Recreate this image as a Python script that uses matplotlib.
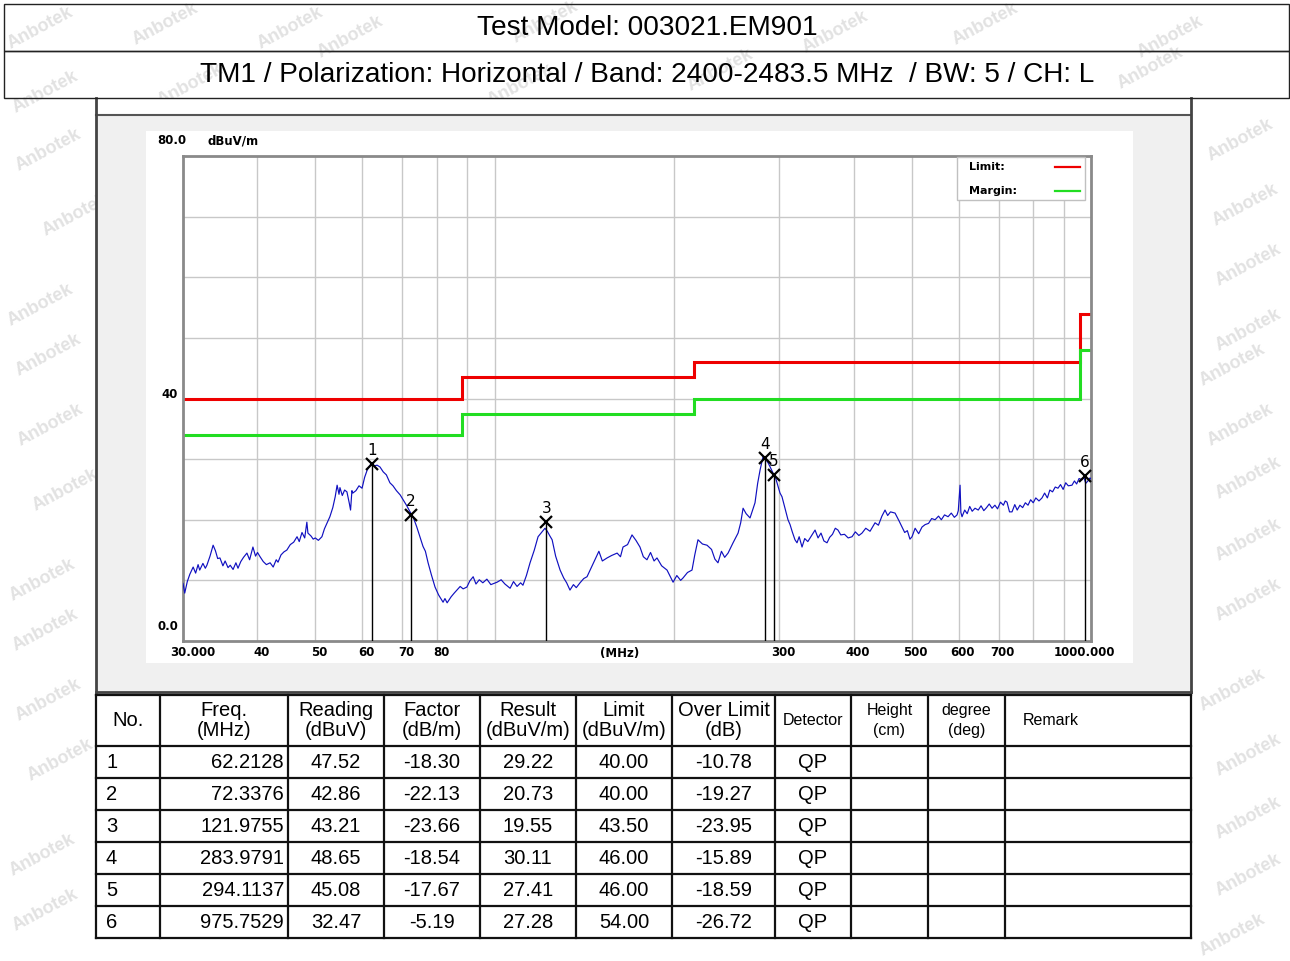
import matplotlib.pyplot as plt
from matplotlib.patches import Rectangle
from matplotlib.ticker import NullLocator

W, H = 1290, 961

title_model = "Test Model: 003021.EM901"
title_setup = "TM1 / Polarization: Horizontal / Band: 2400-2483.5 MHz  / BW: 5 / CH: L"

# limit line (step), margin = limit - 6 dB
limit_edges = [30, 88, 216, 960, 1000]
limit_levels = [40.0, 43.5, 46.0, 54.0]
margin_db = 6.0

trace_freq = [
    30.0, 30.2, 30.5, 30.8, 31.2, 31.5, 31.8, 32.0, 32.4, 32.7, 32.9, 33.3, 33.7, 34.0, 34.3,
    34.6, 35.0, 35.3, 35.7, 36.0, 36.4, 36.8, 37.1, 37.5, 37.9, 38.4, 38.8, 39.3, 39.7, 40.0,
    40.4, 40.9, 41.4, 42.0, 42.5, 43.0, 43.3, 43.8, 44.3, 44.8, 45.4, 46.0, 46.6, 47.0, 47.5,
    48.0, 48.4, 48.6, 49.2, 49.6, 50.0, 50.6, 51.3, 51.8, 52.3, 52.9, 53.5, 54.0, 54.4, 54.8,
    55.0, 55.5, 56.0, 56.5, 57.0, 57.3, 57.6, 57.8, 58.5, 59.2, 59.9, 60.5, 61.1, 61.6, 62.2,
    62.8, 63.5, 64.2, 65.0, 65.8, 66.7, 67.5, 68.4, 69.4, 70.3, 71.2, 72.1, 73.0, 74.0, 74.9,
    75.8, 76.5, 77.3, 78.3, 79.4, 80.5, 81.9, 82.5, 83.2, 84.5, 85.5, 86.4, 87.5, 88.5, 89.8,
    90.8, 92.0, 93.0, 94.2, 95.5, 97.0, 98.5, 100.9, 102.5, 104.0, 106.1, 107.5, 109.0, 110.5,
    111.5, 113.0, 114.6, 116.5, 118.2, 119.8, 121.4, 122.5, 123.6, 124.8, 126.5, 128.7, 130.5,
    132.0, 133.7, 135.5, 137.0, 139.0, 141.0, 142.8, 145.0, 147.3, 149.5, 151.5, 154.3, 157.0,
    160.4, 162.5, 164.1, 167.0, 169.9, 172.5, 175.2, 177.5, 180.0, 182.5, 185.0, 187.1, 190.5,
    194.5, 197.0, 199.1, 202.0, 205.0, 206.9, 210.5, 214.2, 216.5, 219.2, 223.0, 227.0, 231.0,
    234.0, 236.8, 240.0, 243.0, 246.2, 251.0, 255.9, 258.5, 260.9, 264.0, 268.0, 270.5, 273.2,
    276.0, 278.6, 281.8, 284.5, 287.3, 290.0, 292.9, 295.2, 298.0, 300.9, 303.2, 306.5, 310.3,
    312.8, 315.5, 318.8, 321.3, 324.0, 327.6, 331.0, 335.0, 340.0, 344.5, 348.5, 352.5, 356.5,
    360.8, 364.5, 368.5, 372.5, 376.4, 380.5, 386.0, 391.5, 397.4, 402.5, 408.0, 413.0, 419.0,
    426.0, 434.3, 440.0, 446.0, 451.4, 456.0, 461.0, 469.2, 476.0, 482.0, 487.0, 492.0, 497.0,
    501.0, 507.0, 514.0, 520.7, 527.0, 534.0, 540.5, 547.6, 555.0, 561.0, 568.0, 575.8, 583.0,
    590.0, 596.1, 599.0, 603.1, 605.0, 607.7, 614.0, 620.0, 626.0, 632.0, 639.0, 647.0, 654.0,
    661.0, 668.0, 675.0, 682.4, 690.0, 697.0, 705.0, 713.0, 718.0, 723.0, 730.0, 737.1, 745.0,
    752.0, 760.0, 768.0, 776.0, 784.1, 792.0, 800.0, 808.0, 818.0, 827.6, 836.0, 845.0, 853.0,
    862.0, 871.0, 880.3, 889.0, 898.0, 907.0, 916.0, 929.2, 938.0, 946.0, 955.0, 965.8, 973.0,
    980.0, 988.0, 996.1, 1000.0,
]
trace_level = [
    9.5, 7.9, 9.8, 11.0, 12.2, 11.2, 12.6, 11.7, 12.8, 12.0, 12.5, 14.0, 15.8, 14.9, 13.6,
    13.7, 12.4, 13.2, 12.1, 12.5, 11.8, 12.9, 12.0, 13.1, 13.8, 14.5, 13.4, 15.5, 14.0, 14.6,
    13.9, 13.1, 12.6, 12.9, 12.2, 13.4, 13.0, 14.2, 14.7, 15.0, 15.9, 16.3, 17.2, 16.4, 17.9,
    17.0, 19.6, 17.8, 17.3, 16.8, 17.0, 16.6, 17.2, 18.5, 19.4, 20.5, 22.0, 23.8, 25.7, 24.2,
    25.3, 24.0, 24.9, 24.6, 22.8, 21.6, 24.8, 24.4, 24.8, 25.6, 25.2, 27.0, 28.2, 28.8, 29.4,
    28.9, 29.0, 28.7, 27.9, 27.4, 26.1, 25.6, 24.8, 24.1, 23.2, 22.3, 21.3, 20.4, 18.8, 17.2,
    15.6, 14.8, 12.9, 10.9, 8.9, 7.6, 6.4, 7.0, 6.3, 7.3, 7.9, 8.4, 9.0, 8.6, 8.9,
    9.9, 10.6, 9.4, 10.1, 9.6, 10.2, 9.3, 9.7, 10.1, 9.4, 8.7, 9.8, 9.0, 9.6,
    9.2, 10.8, 12.9, 15.0, 17.2, 17.9, 18.6, 18.1, 17.4, 16.7, 14.0, 11.7, 10.4,
    9.6, 8.4, 9.3, 8.8, 9.6, 10.3, 10.6, 12.0, 13.4, 14.8, 13.2, 13.7, 14.1,
    14.5, 13.9, 15.5, 15.9, 17.5, 16.6, 15.5, 13.9, 13.4, 14.6, 13.2, 13.7, 12.4,
    11.7, 10.6, 9.7, 10.8, 10.0, 10.4, 11.3, 11.7, 14.2, 16.7, 16.0, 15.8, 15.1,
    13.5, 12.9, 14.8, 13.8, 14.5, 16.2, 17.8, 19.5, 21.9, 21.0, 20.3, 21.5, 22.8,
    26.0, 28.2, 30.4, 30.0, 29.4, 28.6, 27.7, 27.2, 25.8, 24.4, 23.8, 22.0, 20.0,
    19.2, 18.0, 16.7, 16.2, 17.2, 15.5, 16.9, 16.4, 17.4, 18.3, 17.0, 17.8, 16.5,
    16.2, 17.1, 17.6, 18.6, 18.3, 17.5, 17.6, 17.0, 17.2, 18.0, 17.4, 17.8, 18.6,
    18.1, 19.5, 19.1, 20.6, 21.6, 20.7, 21.3, 21.1, 19.9, 18.8, 17.9, 18.2, 16.8,
    17.2, 18.6, 17.7, 18.8, 19.2, 19.4, 20.2, 20.0, 20.6, 20.0, 20.8, 20.5, 21.1,
    20.4, 20.8, 21.5, 25.7, 21.2, 20.5, 21.6, 21.0, 22.2, 21.4, 21.9, 21.6, 22.3,
    21.5, 22.0, 22.6, 21.9, 22.4, 21.8, 22.9, 22.4, 23.1, 22.9, 21.3, 21.3, 22.5,
    21.6, 22.4, 22.0, 22.8, 22.4, 23.3, 22.8, 23.6, 23.1, 23.6, 24.4, 23.6, 24.9,
    24.6, 25.4, 25.2, 25.8, 25.0, 26.1, 25.6, 25.7, 26.4, 25.9, 26.8, 26.6, 27.0,
    26.0, 26.4, 26.9, 26.7,
]

# peak table
peak_no = [1, 2, 3, 4, 5, 6]
peak_freq = [62.2128, 72.3376, 121.9755, 283.9791, 294.1137, 975.7529]
peak_reading = [47.52, 42.86, 43.21, 48.65, 45.08, 32.47]
peak_factor = [-18.30, -22.13, -23.66, -18.54, -17.67, -5.19]
peak_result = [29.22, 20.73, 19.55, 30.11, 27.41, 27.28]
peak_limit = [40.00, 40.00, 43.50, 46.00, 46.00, 54.00]
peak_over = [-10.78, -19.27, -23.95, -15.89, -18.59, -26.72]
peak_detector = ["QP"] * 6

table_head = ["No.", "Freq.\n(MHz)", "Reading\n(dBuV)", "Factor\n(dB/m)", "Result\n(dBuV/m)",
              "Limit\n(dBuV/m)", "Over Limit\n(dB)", "Detector", "Height\n(cm)", "degree\n(deg)",
              "Remark"]

x_grid = [40, 50, 60, 70, 80, 90, 100, 200, 300, 400, 500, 600, 700, 800, 900]
x_tick_vals = [30, 40, 50, 60, 70, 80, 300, 400, 500, 600, 700, 1000]
x_tick_text = ["30.000", "40", "50", "60", "70", "80", "300", "400", "500", "600", "700", "1000.000"]
y_tick_vals = [80, 40, 0]
y_tick_text = ["80.0", "40", "0.0"]

watermarks = [(165, 24), (350, 37), (545, 22), (835, 32), (985, 24), (1170, 37), (190, 85),
              (1150, 68), (45, 92), (40, 28), (520, 85), (720, 70), (290, 28),
              (48, 150), (75, 215), (40, 305), (48, 355), (50, 425), (65, 490), (42, 580),
              (45, 630), (48, 700), (60, 760), (42, 855), (45, 910),
              (1240, 140), (1245, 205), (1248, 265), (1248, 330), (1232, 365), (1240, 425),
              (1248, 478), (1248, 540), (1248, 600), (1232, 690), (1248, 755), (1248, 818),
              (1248, 875), (1232, 935)]

plt.rcParams["font.family"] = ["Liberation Sans", "DejaVu Sans"]
fig = plt.figure(figsize=(W / 100, H / 100), dpi=100)
fig.patch.set_facecolor("white")

# full-figure overlay in pixel coordinates for frames, titles and the table
ov = fig.add_axes([0, 0, 1, 1], zorder=0)
ov.set_xlim(0, W)
ov.set_ylim(H, 0)
ov.axis("off")


def box(x0, y0, x1, y1, **kw):
    ov.add_patch(Rectangle((x0, y0), x1 - x0, y1 - y0, **kw))


for wx, wy in watermarks:
    ov.text(wx, wy, "Anbotek", rotation=28, ha="center", va="center", fontsize=13,
            fontweight="bold", color="#e2e2e2", zorder=0)

# header
box(4, 4, 1289, 51, fill=False, ec="#222222", lw=1.0, zorder=3)
box(4, 51, 1289, 98, fill=False, ec="#222222", lw=1.0, zorder=3)
ov.text(647, 28, title_model, ha="center", va="center", fontsize=20.2, zorder=4)
ov.text(647, 75, title_setup, ha="center", va="center", fontsize=20.2, zorder=4)

# chart panel
box(96, 98, 1191, 115, fc="white", ec="none", zorder=1)
box(96, 115, 1191, 692, fc="#f0f0f0", ec="none", zorder=1)
box(146, 131, 1133, 663, fc="white", ec="none", zorder=1)
ov.plot([96, 1191], [115, 115], color="#555555", lw=1.5, zorder=2)
ov.plot([96, 96], [98, 692], color="#444444", lw=2, zorder=2)
ov.plot([1191, 1191], [98, 692], color="#444444", lw=2, zorder=2)
ov.plot([96, 1191], [692, 692], color="#444444", lw=2, zorder=2)

# table
col_x = [96, 160, 288, 384, 480, 576, 672, 775, 851, 928, 1005, 1191]
row_y = [695, 746, 778, 810, 842, 874, 906, 938]
box(col_x[0], row_y[0], col_x[-1], row_y[-1], fc="white", ec="none", zorder=1)
for yy in row_y:
    ov.plot([col_x[0], col_x[-1]], [yy, yy], color="#111111", lw=1.6, zorder=3)
for xx in col_x:
    ov.plot([xx, xx], [row_y[0], row_y[-1]], color="#111111", lw=1.6, zorder=3)

hy = (row_y[0] + row_y[1]) / 2
for i, label in enumerate(table_head):
    small = label.startswith(("Detector", "Height", "degree", "Remark"))
    cx = (col_x[i] + col_x[i + 1]) / 2
    ha = "center"
    if label == "Remark":
        cx, ha = col_x[i] + 18, "left"
    ov.text(cx, hy, label, ha=ha, va="center", fontsize=11.5 if small else 14.5,
            linespacing=1.35 if small else 1.12, zorder=4)

for r in range(len(peak_no)):
    cy = (row_y[r + 1] + row_y[r + 2]) / 2
    ov.text(col_x[0] + 10, cy, str(peak_no[r]), ha="left", va="center", fontsize=14.5, zorder=4)
    ov.text(col_x[2] - 4, cy, f"{peak_freq[r]:.4f}", ha="right", va="center", fontsize=14.5, zorder=4)
    vals = [f"{peak_reading[r]:.2f}", f"{peak_factor[r]:.2f}", f"{peak_result[r]:.2f}",
            f"{peak_limit[r]:.2f}", f"{peak_over[r]:.2f}", peak_detector[r]]
    for j, v in enumerate(vals):
        cx = (col_x[2 + j] + col_x[3 + j]) / 2
        ov.text(cx, cy, v, ha="center", va="center", fontsize=14.5, zorder=4)

# spectrum axes
L, R, T, B = 183, 1091, 156, 641
ax = fig.add_axes([L / W, 1 - B / H, (R - L) / W, (B - T) / H], zorder=2)
ax.set_xscale("log")
ax.set_xlim(30, 1000)
ax.set_ylim(0, 80)
ax.set_xticks(x_grid)
ax.set_yticks(range(10, 80, 10))
ax.xaxis.set_minor_locator(NullLocator())
ax.tick_params(length=0, labelbottom=False, labelleft=False)
ax.grid(True, color="#c8c8c8", lw=1.0)
for sp in ax.spines.values():
    sp.set_color("#8a8a8a")
    sp.set_linewidth(2)

chart_font = dict(family="DejaVu Sans", fontweight="bold", fontsize=8.5)

ax.stairs(limit_levels, limit_edges, baseline=None, color="#ee0000", lw=2.2, zorder=2.5)
ax.stairs([v - margin_db for v in limit_levels], limit_edges, baseline=None,
          color="#22dd22", lw=2.2, zorder=2.5)
ax.plot(trace_freq, trace_level, color="#1010c0", lw=0.85, zorder=2.6)

ax.vlines(peak_freq, 0, peak_result, color="black", lw=1.0, zorder=2.7)
ax.plot(peak_freq, peak_result, "x", color="black", ms=8, mew=1.6, zorder=2.8)
for n, f, r in zip(peak_no, peak_freq, peak_result):
    ax.annotate(str(n), (f, r), xytext=(0, 6), textcoords="offset pixels",
                ha="center", va="bottom", fontsize=11, family="DejaVu Sans")

for v, s in zip(x_tick_vals, x_tick_text):
    dx = 10 if v == 30 else (-7 if v == 1000 else 4)
    ax.annotate(s, (v, 0), xycoords=("data", "axes fraction"), xytext=(dx, -12),
                textcoords="offset pixels", ha="center", va="center", **chart_font)
ax.annotate("(MHz)", (0.481, 0), xycoords="axes fraction", xytext=(0, -12),
            textcoords="offset pixels", ha="center", va="center", **chart_font)

for v, s in zip(y_tick_vals, y_tick_text):
    if s == "40":
        xt, ha, dy = -5, "right", 4
    else:
        xt, ha, dy = -26, "left", 15 if v == 80 else 14
    ax.annotate(s, (0, v), xycoords=("axes fraction", "data"), xytext=(xt, dy),
                textcoords="offset pixels", ha=ha, va="center", **chart_font)
ax.annotate("dBuV/m", (0, 80), xycoords=("axes fraction", "data"), xytext=(25, 15),
            textcoords="offset pixels", ha="left", va="center", **chart_font)

# legend box, drawn in axes fraction so it hides the grid behind it
ax.add_patch(Rectangle((0.8524, 0.9093), 0.141, 0.0887, transform=ax.transAxes,
                       fc="white", ec="#c0c0c0", lw=1.0, zorder=3))
legend_items = [("Limit:", "#ee0000", 0.9773), ("Margin:", "#22dd22", 0.9278)]
for name, col, ly in legend_items:
    ax.text(0.8656, ly, name, transform=ax.transAxes, ha="left", va="center", zorder=4,
            family="DejaVu Sans", fontweight="bold", fontsize=8)
    ax.plot([0.9604, 0.9879], [ly, ly], transform=ax.transAxes, color=col, lw=1.6, zorder=4)

fig.savefig("out.png", dpi=100)
